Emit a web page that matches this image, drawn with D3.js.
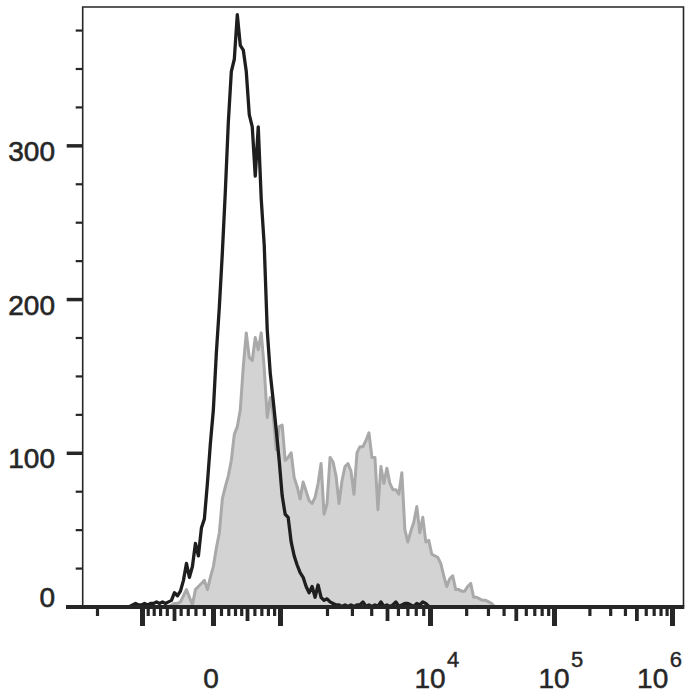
<!DOCTYPE html>
<html><head><meta charset="utf-8">
<script src="https://cdn.jsdelivr.net/npm/d3@7"></script>
<style>body{margin:0;background:#fff}</style>
</head><body>
<svg id="c" width="700" height="700"></svg>
<script>
// ---------- data ----------
const histLo = -2200, histHi = 40000;   // fluorescence range covered by the histogram bins
const blackCounts = [
0,1,2,1,1,2,1,2,2,3,
2,3,2,3,4,9,7,10,17,28,
19,26,41,33,51,57,80,106,128,165,
195,230,270,315,348,356,385,365,362,348,
320,312,280,312,265,235,180,152,134,115,
95,72,60,58,42,33,27,22,19,13,
9,13,6,14,6,4,5,3,2,1,
1,0,1,0,1,0,1,1,3,0,
1,0,1,0,3,0,1,0,1,3,
0,1,2,2,1,0,2,1,3,2,
0];
const grayCounts = [
0,0,0,0,0,0,0,0,0,0,0,0,0,0,
1,2,2,3,7,11,6,1,11,13,
15,17,11,19,26,38,48,70,78,85,
95,112,117,128,156,178,162,160,175,167,
178,155,123,136,125,102,117,118,95,97,
100,84,78,70,81,75,69,67,71,80,
93,60,67,97,94,85,67,82,91,93,
88,73,100,104,104,108,113,97,97,63,
91,80,90,80,76,76,73,87,50,42,
49,55,65,48,58,42,43,34,33,32,
28,20,13,18,20,11,11,10,10,13,
15,6,6,5,4,4,3,2,0,0,0,0];
const yMax = 390;
const yMajorTicks = [0,100,200,300];
const yMinorTicks = [25,50,75,125,150,175,225,250,275,325,350,375];
const xMajorTicks = [-1000,0,1000,1e4,1e5,1e6];
const xMediumTicks = [-500,500,5000,5e4,5e5];
const xMinorTicks = [-1e4,-900,-800,-700,-600,-400,-300,-200,-100,100,200,300,400,600,700,800,900,
  2000,3000,4000,6000,7000,8000,9000,2e4,3e4,4e4,6e4,7e4,8e4,9e4,2e5,3e5,4e5,6e5,7e5,8e5,9e5];
const xLabelValues = [0,1e4,1e5,1e6];
const xLabelBase = ["0","10","10","10"];
const xLabelExp = ["","4","5","6"];

// ---------- layout ----------
const L = 82.7, R = 683.5, T = 7, B = 606.5;
const svg = d3.select("#c");
const ink = "#262626";
const font = "'Liberation Sans', Arial, Helvetica, sans-serif";

// biexponential-like display: symlog, piecewise across decades
const xAnchors = [-1e4,-1e3,-500,0,500,1e3,2e3,5e3,1e4,1e5,1e6];
const xAnchorPx = [97,142,174,213,247,280,327,387,430,554,672];
const x = d3.scaleSymlog().constant(1000).domain(xAnchors).range(xAnchorPx);
const y = d3.scaleLinear().domain([0, yMax]).range([B, T]);

const bx = d3.scaleLinear().domain([0, grayCounts.length - 1]).range([x(histLo), x(histHi)]);

// gray filled histogram
const area = d3.area().x((d,i)=>bx(i)).y0(y(0)).y1(d=>y(d));
const line = d3.line().x((d,i)=>bx(i)).y(d=>y(d));
svg.append("path").datum(grayCounts).attr("d", area).attr("fill", "#d3d3d3");
svg.append("path").datum(grayCounts).attr("d", line).attr("fill","none")
  .attr("stroke","#a9a9a9").attr("stroke-width",3).attr("stroke-linejoin","round");
// black outline histogram
svg.append("path").datum(blackCounts).attr("d", line).attr("fill","none")
  .attr("stroke","#1e1e1e").attr("stroke-width",3.3).attr("stroke-linejoin","round");

// frame
svg.append("path").attr("d", `M${L},${B} L${L},${T} L${R},${T} L${R},${B}`)
  .attr("fill","none").attr("stroke",ink).attr("stroke-width",1.6);
svg.append("line").attr("x1",66).attr("x2",R+0.8).attr("y1",B+0.5).attr("y2",B+0.5)
  .attr("stroke",ink).attr("stroke-width",4);

// y axis ticks
function yAxis(vals, size, w) {
  const g = svg.append("g").attr("transform",`translate(${L},0)`)
    .call(d3.axisLeft(y).tickValues(vals).tickSize(size).tickFormat(""));
  g.select(".domain").remove();
  g.selectAll(".tick line").attr("stroke",ink).attr("stroke-width",w);
}
yAxis(yMinorTicks, 7, 2.2);
yAxis(yMajorTicks, 16, 3.5);
svg.append("g").selectAll("text").data(yMajorTicks).join("text")
  .attr("x",55).attr("y",d=> d===0 ? y(d)-9 : y(d)+6)
  .attr("text-anchor","end").attr("dominant-baseline","central")
  .attr("font-family",font).attr("font-size",28).attr("fill",ink)
  .attr("stroke",ink).attr("stroke-width",0.6).text(d=>d);

// x axis ticks
function xAxis(vals, size, w) {
  const g = svg.append("g").attr("transform",`translate(0,${B+2.5})`)
    .call(d3.axisBottom(x).tickValues(vals).tickSize(size).tickFormat(""));
  g.select(".domain").remove();
  g.selectAll(".tick line").attr("stroke",ink).attr("stroke-width",w);
}
xAxis(xMinorTicks, 7, 3.2);
xAxis(xMediumTicks, 12, 3.8);
xAxis(xMajorTicks, 17, 5);

// x labels
const lab = svg.append("g");
xLabelValues.forEach((v,i)=>{
  const cx = x(v) - (i===0 ? 2 : 0);
  const base = lab.append("text").attr("x",cx).attr("y",688).attr("text-anchor","middle")
    .attr("font-family",font).attr("font-size",28).attr("fill",ink)
    .attr("stroke",ink).attr("stroke-width",0.5).text(xLabelBase[i]);
  if (xLabelExp[i]) {
    const bw = base.node().getComputedTextLength();
    const sup = lab.append("text").attr("x",cx + bw/2 + 1.5).attr("y",667)
      .attr("font-family",font).attr("font-size",22).attr("fill",ink)
      .attr("stroke",ink).attr("stroke-width",0.4).text(xLabelExp[i]);
    const right = cx + bw/2 + 1.5 + sup.node().getComputedTextLength();
    if (right > 682) {
      const s = right - 682;
      base.attr("x", cx - s);
      sup.attr("x", cx + bw/2 + 1.5 - s);
    }
  }
});
</script>
</body></html>
